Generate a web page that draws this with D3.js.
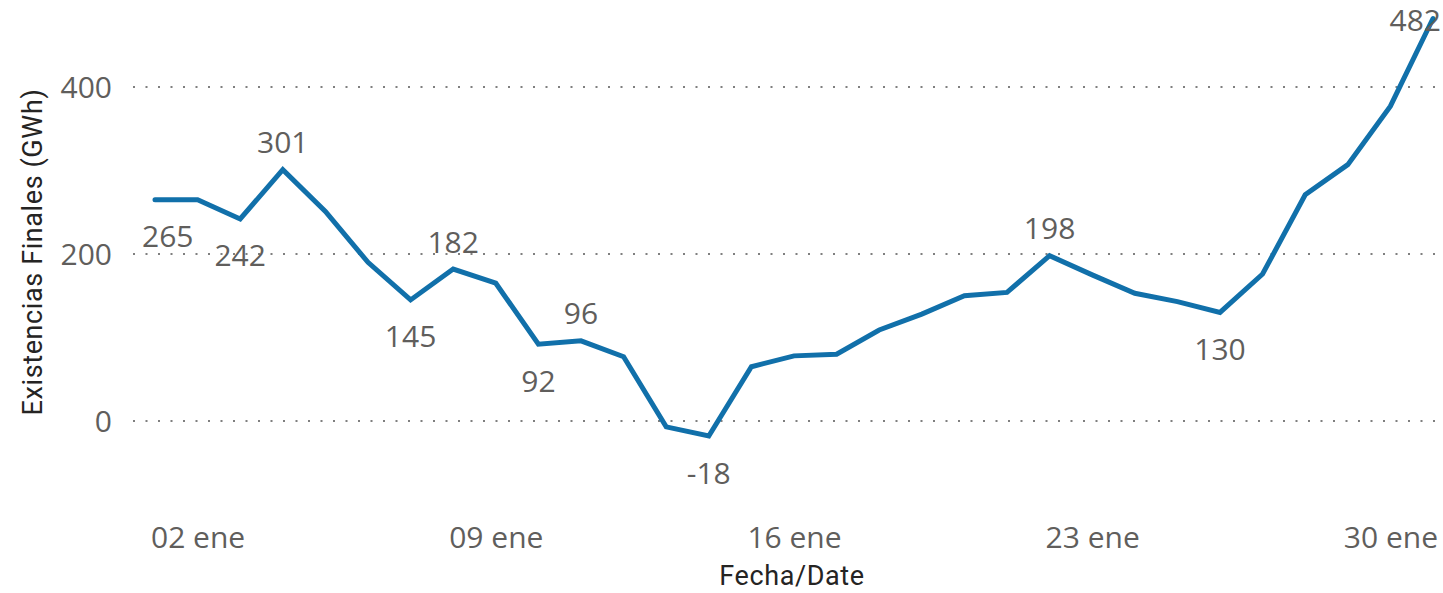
<!DOCTYPE html>
<html><head><meta charset="utf-8">
<script src="https://cdn.jsdelivr.net/npm/d3@7"></script>
<style>body{margin:0;background:#fff;}svg{display:block;}</style>
</head><body>
<svg id="chart" width="1443" height="593"></svg>
<script>
const days = d3.range(1, 32);
const values = [265,265,242,301,251,190,145,182,165,92,96,77,-7,-18,65,78,80,109,128,150,154,198,175,153,143,130,176,271,307,377,482];
const labeledDays = [1,3,4,7,8,10,11,14,22,26,31];
const labelAbove = [false,false,true,false,true,false,true,false,true,false,true];
const xTickDays = [2,9,16,23,30];
const xTickLabels = ["02 ene","09 ene","16 ene","23 ene","30 ene"];
const yTicks = [0,200,400];
const xTitle = "Fecha/Date";
const yTitle = "Existencias Finales (GWh)";

const svg = d3.select("#chart");
const font = "'Open Sans', 'Noto Sans', sans-serif";
const titleFont = "Roboto, 'Noto Sans', sans-serif";
const x = d3.scaleLinear().domain([1,31]).range([155,1433]);
const y = d3.scaleLinear().domain([-60,500]).range([421+60*0.835, 421-500*0.835]);

// gridlines
svg.append("g").selectAll("line").data(yTicks).join("line")
  .attr("x1",133).attr("x2",1443)
  .attr("y1",d=>y(d)).attr("y2",d=>y(d))
  .attr("stroke","#7f7f7f").attr("stroke-width",2)
  .attr("stroke-dasharray","2,10.5").attr("stroke-linecap","butt");

// y axis labels
const yAxis = d3.axisLeft(y).tickValues(yTicks).tickSize(0).tickPadding(0);
const gy = svg.append("g").attr("transform","translate(112,0)").call(yAxis);
gy.select(".domain").remove();
gy.selectAll("text").attr("font-family",font).attr("font-size",30).attr("fill","#605E5C").attr("dy","0.35em");

// x axis labels
const xAxis = d3.axisBottom(x).tickValues(xTickDays).tickFormat((d,i)=>xTickLabels[i]).tickSize(0).tickPadding(0);
const gx = svg.append("g").attr("transform","translate(0,537)").call(xAxis);
gx.select(".domain").remove();
gx.selectAll("text").attr("font-family",font).attr("font-size",30).attr("fill","#605E5C").attr("dy","0.35em");

// titles
svg.append("text").attr("x",792).attr("y",576).attr("text-anchor","middle").attr("dy","0.35em")
  .attr("font-family",titleFont).attr("font-size",27).attr("letter-spacing","0.6px").attr("fill","#252423").text(xTitle);
svg.append("text").attr("transform","translate(33,252) rotate(-90)").attr("text-anchor","middle").attr("dy","0.35em")
  .attr("font-family",titleFont).attr("font-size",27).attr("letter-spacing","0.6px").attr("fill","#252423").text(yTitle);

// line
const line = d3.line().x((d,i)=>x(days[i])).y(d=>y(d));
svg.append("path").datum(values).attr("d",line).attr("fill","none")
  .attr("stroke","#1170AA").attr("stroke-width",5).attr("stroke-linejoin","miter").attr("stroke-linecap","round");

// data labels
const lbl = svg.append("g");
labeledDays.forEach((d,i)=>{
  const v = values[d-1];
  let ly = labelAbove[i] ? y(v)-27 : y(v)+37;
  ly = Math.max(ly, 20);
  const t = lbl.append("text").attr("y",ly).attr("dy","0.35em")
    .attr("font-family",font).attr("font-size",30).attr("fill","#605E5C").text(v);
  const w = t.node().getComputedTextLength();
  let lx = x(d) - w/2;
  lx = Math.max(142, Math.min(lx, 1441 - w));
  t.attr("x", lx);
});
</script>
</body></html>
